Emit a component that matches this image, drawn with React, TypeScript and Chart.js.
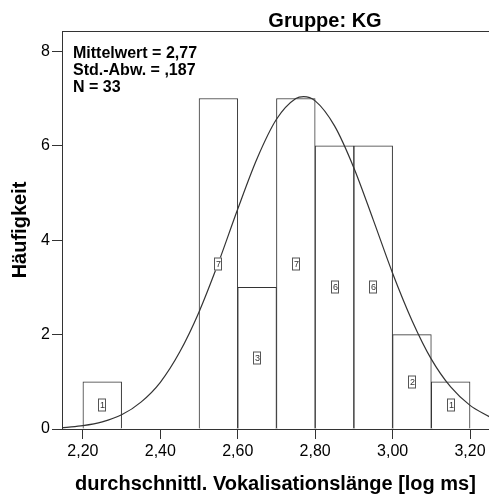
import React, { useEffect, useRef } from "react";
import { Chart, registerables } from "chart.js";

Chart.register(...registerables);

// ---- data ----
const binStarts = [2.2, 2.3, 2.4, 2.5, 2.6, 2.7, 2.8, 2.9, 3.0, 3.1];
const binCounts = [1, 0, 0, 7, 3, 7, 6, 6, 2, 1];
const binWidth = 0.1;

const curveX = [2.14, 2.15, 2.2, 2.25, 2.3, 2.35, 2.4, 2.45, 2.5, 2.55, 2.6, 2.65, 2.7, 2.75, 2.77, 2.8, 2.85, 2.9, 2.95, 3.0, 3.05, 3.1, 3.15, 3.2, 3.25];
const curveY = [0.02, 0.03, 0.07, 0.15, 0.3, 0.57, 0.99, 1.63, 2.48, 3.52, 4.66, 5.73, 6.56, 7.0, 7.04, 6.95, 6.42, 5.53, 4.43, 3.3, 2.3, 1.48, 0.89, 0.5, 0.26];

const xTicks = [2.2, 2.4, 2.6, 2.8, 3.0, 3.2];
const yTicks = [0, 2, 4, 6, 8];

const titleText = "Gruppe: KG";
const statsLines = ["Mittelwert = 2,77", "Std.-Abw. = ,187", "N = 33"];
const xTitle = "durchschnittl. Vokalisationslänge [log ms]";
const yTitle = "Häufigkeit";

const FONT = "'Liberation Sans', Arial, Helvetica, sans-serif";
const LINE = "#333333";

export default function App() {
  const ref = useRef<HTMLCanvasElement | null>(null);

  useEffect(() => {
    if (!ref.current) return;

    const decor = {
      id: "decor",
      afterDatasetsDraw(chart: any) {
        const ctx = chart.ctx;
        const area = chart.chartArea;
        // count labels in each bar
        const meta = chart.getDatasetMeta(1);
        ctx.save();
        meta.data.forEach((el: any, i: number) => {
          const c = binCounts[i];
          if (!c) return;
          const cx = Math.round(el.x);
          const cy = Math.round((el.y + el.base) / 2);
          const w = 8, h = 13;
          ctx.fillStyle = "#ffffff";
          ctx.fillRect(cx - w / 2, cy - h / 2, w, h);
          ctx.strokeStyle = "#555555";
          ctx.lineWidth = 1;
          ctx.strokeRect(cx - w / 2 + 0.5, cy - h / 2 + 0.5, w - 1, h - 1);
          ctx.fillStyle = "#333333";
          ctx.font = `9px ${FONT}`;
          ctx.textAlign = "center";
          ctx.textBaseline = "middle";
          ctx.fillText(String(c), cx + 0.5, cy + 0.5);
        });
        // top frame line
        ctx.strokeStyle = LINE;
        ctx.lineWidth = 1;
        ctx.beginPath();
        ctx.moveTo(area.left, Math.round(area.top) + 0.5);
        ctx.lineTo(area.right, Math.round(area.top) + 0.5);
        ctx.stroke();
        // stats text
        ctx.fillStyle = "#000000";
        ctx.font = `bold 16px ${FONT}`;
        ctx.textAlign = "left";
        ctx.textBaseline = "alphabetic";
        statsLines.forEach((t, i) => {
          ctx.fillText(t, area.left + 11, area.top + 27 + i * 17);
        });
        // main title
        ctx.font = `bold 20px ${FONT}`;
        ctx.textAlign = "center";
        ctx.fillText(titleText, 325, 27);
        ctx.restore();
      },
    };

    const chart = new Chart(ref.current, {
      data: {
        datasets: [
          {
            type: "line",
            data: curveX.map((x, i) => ({ x, y: curveY[i] })),
            borderColor: LINE,
            borderWidth: 1.2,
            pointRadius: 0,
            cubicInterpolationMode: "monotone",
            fill: false,
            order: 0,
          } as any,
          {
            type: "bar",
            data: binStarts.map((s, i) => ({ x: s + binWidth / 2, y: binCounts[i] })),
            backgroundColor: "#ffffff",
            borderColor: LINE,
            borderWidth: 1,
            barPercentage: 1,
            categoryPercentage: 1,
            order: 1,
          } as any,
        ],
      },
      options: {
        responsive: false,
        animation: false,
        layout: { padding: { top: 31, left: 0, right: 0, bottom: 0 } },
        plugins: { legend: { display: false }, tooltip: { enabled: false }, title: { display: false } },
        scales: {
          x: {
            type: "linear",
            offset: false,
            min: 2.146,
            max: 3.249,
            afterBuildTicks: (s: any) => {
              s.ticks = xTicks.map((v) => ({ value: v }));
            },
            afterFit: (s: any) => {
              s.height = 65;
            },
            grid: { display: true, offset: false, drawOnChartArea: false, drawTicks: true, tickLength: 10, color: LINE, lineWidth: 1 },
            border: { display: true, color: LINE, width: 1 },
            ticks: {
              autoSkip: false,
              maxRotation: 0,
              padding: 3,
              color: "#000",
              font: { family: FONT, size: 16 },
              callback: (v: any) => Number(v).toFixed(2).replace(".", ","),
            },
            title: {
              display: true,
              text: xTitle,
              color: "#000",
              font: { family: FONT, size: 20, weight: "bold" },
              padding: { top: 0, bottom: -2 },
            },
          },
          y: {
            type: "linear",
            min: 0,
            max: 8.43,
            afterBuildTicks: (s: any) => {
              s.ticks = yTicks.map((v) => ({ value: v }));
            },
            afterFit: (s: any) => {
              s.width = 62;
            },
            grid: { display: true, drawOnChartArea: false, drawTicks: true, tickLength: 10, color: LINE, lineWidth: 1 },
            border: { display: true, color: LINE, width: 1 },
            ticks: {
              padding: 2,
              color: "#000",
              font: { family: FONT, size: 16 },
              callback: (v: any) => String(v),
            },
            title: {
              display: true,
              text: yTitle,
              color: "#000",
              font: { family: FONT, size: 20, weight: "bold" },
              padding: { top: 8, bottom: 0 },
            },
          },
        },
      },
      plugins: [decor],
    } as any);

    return () => chart.destroy();
  }, []);

  return (
    <div style={{ position: "fixed", left: 0, top: 0, width: 489, height: 494, background: "#fff" }}>
      <canvas ref={ref} width={489} height={494} style={{ display: "block" }} />
    </div>
  );
}
